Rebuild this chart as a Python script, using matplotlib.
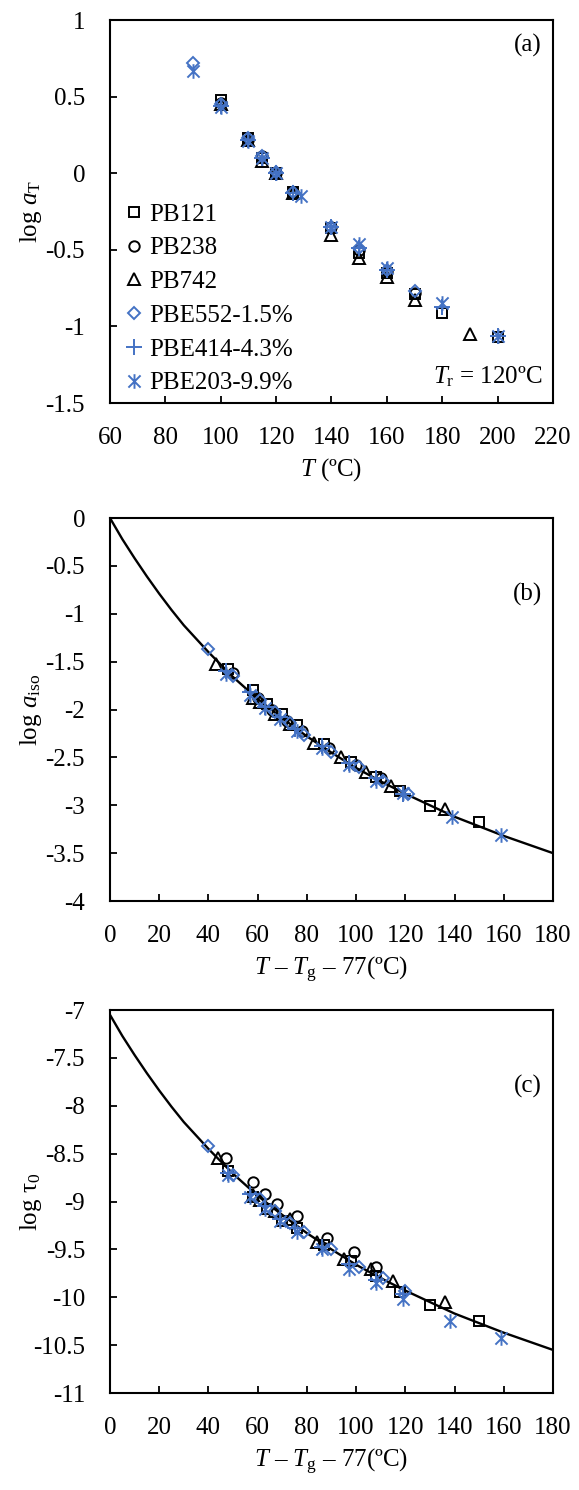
# _*_ coding: utf-8 _*_
'''
shift factors / log a_iso / log tau0 for PB and PBE samples
'''
import numpy as np
import matplotlib.pyplot as plt
from matplotlib.path import Path

plt.rcParams['font.family'] = ['Liberation Serif', 'DejaVu Serif']
plt.rcParams['mathtext.fontset'] = 'custom'
plt.rcParams['mathtext.rm'] = 'Liberation Serif'
plt.rcParams['mathtext.it'] = 'Liberation Serif:italic'
plt.rcParams['axes.unicode_minus'] = False

labels = ['PB121', 'PB238', 'PB742', 'PBE552-1.5%', 'PBE414-4.3%', 'PBE203-9.9%']

# panel (a): T (C) vs log aT
a_T = [
    [100, 110, 115, 120, 126, 140, 150, 160, 170, 180, 200],
    [100, 110, 115, 120, 126, 140, 150, 160, 170],
    [100, 110, 115, 120, 126, 140, 150, 160, 170, 190],
    [90, 100, 110, 115, 120, 126, 140, 150, 160, 170],
    [100, 110, 115, 120, 126, 140, 150, 160, 180, 200],
    [90, 100, 110, 115, 120, 129, 140, 150, 160, 180, 200],
]
a_log = [
    [0.48, 0.23, 0.10, 0.00, -0.12, -0.36, -0.52, -0.65, -0.79, -0.91, -1.07],
    [0.46, 0.22, 0.11, 0.00, -0.12, -0.35, -0.50, -0.64, -0.78],
    [0.45, 0.22, 0.08, 0.00, -0.13, -0.40, -0.55, -0.68, -0.83, -1.05],
    [0.72, 0.45, 0.23, 0.11, 0.01, -0.12, -0.35, -0.49, -0.63, -0.77],
    [0.44, 0.22, 0.10, 0.00, -0.13, -0.35, -0.49, -0.63, -0.87, -1.06],
    [0.67, 0.43, 0.21, 0.10, 0.00, -0.15, -0.35, -0.46, -0.62, -0.85, -1.06],
]

# panel (b): T - Tg - 77 vs log a_iso
b_x = [
    [48, 58, 64, 70, 76, 87, 98, 108, 118, 130, 150],
    [50, 60, 66, 72, 78, 89, 100, 110],
    [43, 58, 61, 67, 73, 83, 94, 104, 114, 136],
    [40, 50, 61, 67, 73, 79, 90, 101, 111, 121],
    [47, 57, 63, 69, 75, 86, 97, 108, 119],
    [47, 57, 63, 69, 76, 86, 97, 108, 119, 139, 159],
]
b_y = [
    [-1.58, -1.80, -1.94, -2.05, -2.16, -2.36, -2.55, -2.70, -2.85, -3.01, -3.17],
    [-1.62, -1.88, -2.00, -2.12, -2.22, -2.40, -2.58, -2.72],
    [-1.52, -1.88, -1.92, -2.05, -2.15, -2.35, -2.50, -2.65, -2.80, -3.04],
    [-1.37, -1.65, -1.90, -2.03, -2.14, -2.27, -2.44, -2.60, -2.75, -2.88],
    [-1.60, -1.82, -1.97, -2.08, -2.20, -2.38, -2.56, -2.72, -2.88],
    [-1.63, -1.85, -1.98, -2.10, -2.22, -2.40, -2.58, -2.75, -2.87, -3.12, -3.31],
]

# panel (c): T - Tg - 77 vs log tau0
c_x = [
    [48, 58, 64, 70, 76, 87, 98, 108, 118, 130, 150],
    [47, 58, 63, 68, 76, 88, 99, 108],
    [44, 58, 61, 67, 73, 84, 95, 106, 115, 136],
    [40, 50, 61, 67, 73, 79, 90, 101, 111, 120],
    [48, 57, 63, 69, 75, 86, 97, 108, 119],
    [48, 57, 63, 69, 76, 86, 97, 108, 119, 138, 159],
]
c_y = [
    [-8.68, -8.95, -9.08, -9.20, -9.28, -9.45, -9.62, -9.78, -9.95, -10.08, -10.25],
    [-8.55, -8.80, -8.92, -9.03, -9.15, -9.38, -9.53, -9.68],
    [-8.55, -8.93, -8.98, -9.10, -9.18, -9.42, -9.60, -9.70, -9.83, -10.05],
    [-8.42, -8.72, -8.97, -9.10, -9.22, -9.32, -9.50, -9.68, -9.80, -9.93],
    [-8.70, -8.92, -9.05, -9.18, -9.28, -9.48, -9.65, -9.82, -9.97],
    [-8.72, -8.95, -9.08, -9.20, -9.32, -9.50, -9.70, -9.85, -10.02, -10.25, -10.43],
]

# fitted curves
fit_x = [0, 5, 10, 15, 20, 25, 30, 35, 40, 50, 60, 70, 80, 90, 100, 110, 120,
         130, 140, 150, 160, 170, 180]
fit_b = [0.00, -0.22, -0.42, -0.61, -0.79, -0.96, -1.12, -1.26, -1.40, -1.66, -1.89,
         -2.09, -2.28, -2.45, -2.61, -2.75, -2.88, -3.00, -3.12, -3.22, -3.32, -3.41, -3.50]
fit_c = [-7.05, -7.27, -7.47, -7.66, -7.84, -8.01, -8.17, -8.31, -8.45, -8.71, -8.94,
         -9.14, -9.33, -9.50, -9.66, -9.80, -9.93, -10.05, -10.17, -10.27, -10.37,
         -10.46, -10.55]

BLUE = '#4472C4'
star = Path([(-1, -1), (1, 1), (-1, 1), (1, -1), (0, -1.2), (0, 1.2)],
            [Path.MOVETO, Path.LINETO, Path.MOVETO, Path.LINETO, Path.MOVETO, Path.LINETO])
styles = [
    dict(marker='s', color='black', ms=7.5),
    dict(marker='o', color='black', ms=7.5),
    dict(marker='^', color='black', ms=8.5),
    dict(marker='D', color=BLUE, ms=6.5),
    dict(marker='+', color=BLUE, ms=11),
    dict(marker=star, color=BLUE, ms=10.5),
]


def draw_series(ax, xs, ys):
    hs = []
    for x, y, st, lab in zip(xs, ys, styles, labels):
        h, = ax.plot(x, y, linestyle='none', marker=st['marker'], ms=st['ms'],
                     mfc='none', mec=st['color'], mew=1.4, label=lab, zorder=3)
        hs.append(h)
    return hs


def style_ax(ax):
    for sp in ax.spines.values():
        sp.set_linewidth(1.5)
        sp.set_color('black')
    ax.tick_params(direction='in', length=5, width=1.3, labelsize=18,
                   top=False, right=False)
    ax.tick_params(axis='y', pad=18)
    ax.tick_params(axis='x', pad=17)


fig = plt.figure(figsize=(5.79, 14.90), dpi=100)
L, W, H = 0.19, 0.765, 0.257
ax_a = fig.add_axes([L, 0.7295, W, H])
ax_b = fig.add_axes([L, 0.3953, W, H])
ax_c = fig.add_axes([L, 0.0651, W, H])

# (a)
hs = draw_series(ax_a, a_T, a_log)
ax_a.set_xlim(60, 220)
ax_a.set_ylim(-1.5, 1)
ax_a.set_xticks(np.arange(60, 221, 20))
ax_a.set_yticks([-1.5, -1, -0.5, 0, 0.5, 1])
ax_a.set_yticklabels(['-1.5', '-1', '-0.5', '0', '0.5', '1'])
style_ax(ax_a)
ax_a.set_xlabel('$\\mathit{T}$ (ºC)', fontsize=18)
ax_a.set_ylabel('log $\\mathit{a}_{\\mathrm{T}}$', fontsize=18)
ax_a.text(0.975, 0.935, '(a)', transform=ax_a.transAxes, ha='right', va='center', fontsize=18)
ax_a.text(0.977, 0.068, '$\\mathit{T}_{\\mathrm{r}}$ = 120ºC', transform=ax_a.transAxes,
          ha='right', va='center', fontsize=18)
ax_a.legend(handles=hs, loc='upper left', bbox_to_anchor=(0.015, 0.548), frameon=False,
            fontsize=18, handlelength=0.6, handletextpad=0.3, labelspacing=0.45,
            borderaxespad=0.0)

# (b)
ax_b.plot(fit_x, fit_b, color='black', lw=1.7, zorder=2)
draw_series(ax_b, b_x, b_y)
ax_b.set_xlim(0, 180)
ax_b.set_ylim(-4, 0)
ax_b.set_xticks(np.arange(0, 181, 20))
ax_b.set_yticks(np.arange(-4, 0.01, 0.5))
ax_b.set_yticklabels(['-4', '-3.5', '-3', '-2.5', '-2', '-1.5', '-1', '-0.5', '0'])
style_ax(ax_b)
ax_b.set_xlabel('$\\mathit{T}$ – $\\mathit{T}_{\\mathrm{g}}$ – 77(ºC)', fontsize=18)
ax_b.set_ylabel('log $\\mathit{a}_{\\mathrm{iso}}$', fontsize=18)
ax_b.text(0.975, 0.80, '(b)', transform=ax_b.transAxes, ha='right', va='center', fontsize=18)

# (c)
ax_c.plot(fit_x, fit_c, color='black', lw=1.7, zorder=2)
draw_series(ax_c, c_x, c_y)
ax_c.set_xlim(0, 180)
ax_c.set_ylim(-11, -7)
ax_c.set_xticks(np.arange(0, 181, 20))
ax_c.set_yticks(np.arange(-11, -6.99, 0.5))
ax_c.set_yticklabels(['-11', '-10.5', '-10', '-9.5', '-9', '-8.5', '-8', '-7.5', '-7'])
style_ax(ax_c)
ax_c.set_xlabel('$\\mathit{T}$ – $\\mathit{T}_{\\mathrm{g}}$ – 77(ºC)', fontsize=18)
ax_c.set_ylabel('log τ$_{0}$', fontsize=18)
ax_c.text(0.975, 0.80, '(c)', transform=ax_c.transAxes, ha='right', va='center', fontsize=18)

for ax in (ax_a, ax_b, ax_c):
    ax.yaxis.set_label_coords(-0.15, 0.5)
    ax.xaxis.set_label_coords(0.5, -0.14)

plt.savefig('out.png', dpi=100)
plt.close()
